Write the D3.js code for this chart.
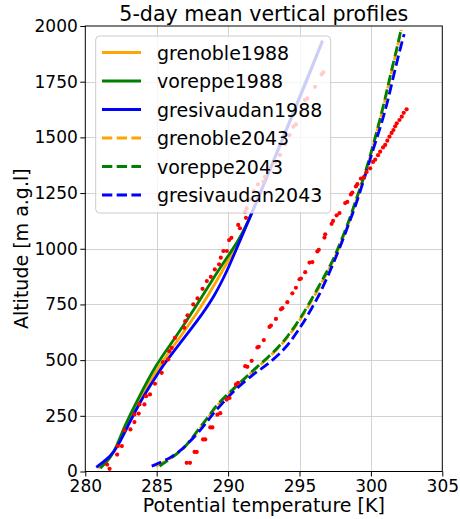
<!DOCTYPE html>
<html>
<head>
<meta charset="utf-8">
<script src="https://cdn.jsdelivr.net/npm/d3@7"></script>
<style>
  html, body { margin: 0; padding: 0; background: #fff; }
  svg { display: block; font-family: "DejaVu Sans", sans-serif; }
</style>
</head>
<body>
<svg id="chart" width="460" height="519"></svg>
<script>
// Profiles: [altitude (m a.g.l), potential temperature (K)]
const grenoble1988 = [[15,280.9],[60,281.7],[106,282.18],[204,282.86],[323,283.79],[481,285.23],[593,286.53],[728,288.02],[877,289.4],[975,290.25],[1042,290.82],[1154,291.65],[1400,293.21],[1600,294.5],[1800,295.77],[1934,296.6]];
const voreppe1988 = [[15,281.05],[60,281.75],[106,282.16],[204,282.74],[323,283.67],[481,284.95],[593,286.23],[728,287.63],[877,289.05],[975,290.08],[1042,290.78],[1154,291.65],[1400,293.2],[1600,294.48],[1800,295.75],[1934,296.6]];
const gresivaudan1988 = [[19,280.77],[69,281.81],[114,282.28],[204,282.98],[323,283.91],[451,285.19],[488,285.58],[563,286.47],[680,287.9],[787,289.05],[907,289.98],[1020,290.72],[1150,291.6],[1400,293.22],[1600,294.52],[1800,295.8],[1934,296.62]];

const grenoble2043 = [[24,284.95],[55,285.92],[98,286.82],[135,287.33],[188,287.95],[240,288.6],[299,289.25],[355,290.13],[396,290.86],[455,291.8],[500,292.66],[560,293.6],[600,294.15],[690,295.16],[787,296.04],[877,296.8],[951,297.43],[1050,298.05],[1131,298.54],[1220,298.98],[1295,299.4],[1400,299.9],[1535,300.47],[1655,300.95],[1790,301.42],[1910,301.88],[1982,302.12]];
const voreppe2043 = [[24,285.2],[55,285.9],[98,286.8],[135,287.3],[188,287.91],[240,288.55],[299,289.19],[355,290.08],[396,290.81],[455,291.74],[500,292.6],[560,293.55],[600,294.1],[690,295.1],[787,295.97],[877,296.74],[951,297.38],[1050,298.0],[1131,298.5],[1220,298.95],[1295,299.38],[1400,299.88],[1535,300.45],[1655,300.93],[1790,301.4],[1910,301.86],[1980,302.1]];
const gresivaudan2043 = [[24,284.65],[46,285.47],[68,286.1],[91,286.6],[120,287.1],[173,287.91],[226,288.55],[269,289.07],[338,290.05],[374,290.6],[433,291.7],[458,292.25],[485,292.85],[548,293.95],[600,294.55],[653,295.12],[698,295.55],[772,296.2],[802,296.45],[892,297.09],[981,297.67],[1042,298.05],[1086,298.3],[1177,298.84],[1296,299.45],[1446,300.15],[1535,300.62],[1655,301.16],[1790,301.63],[1910,302.1],[1963,302.33]];

// Observed soundings (dotted red), [altitude, potential temperature]
const obs1988 = [[12,281.7],[31,281.53],[76,282.23],[114,282.28],[114,282.56],[184,282.74],[189,283.16],[222,283.44],[256,283.44],[260,283.74],[301,283.79],[301,284.14],[338,284.26],[346,284.53],[394,284.88],[443,285.35],[491,285.44],[503,285.81],[540,285.88],[555,286.05],[600,286.28],[645,286.93],[675,287.0],[701,287.16],[750,287.56],[777,287.86],[820,288.21],[855,288.51],[874,288.79],[907,289.07],[930,289.37],[960,289.49],[990,289.67],[990,289.91],[1039,290.07],[1049,290.23],[1092,290.83],[1107,290.71],[1139,291.25],[1166,291.18],[1181,291.3],[1222,291.5],[1259,291.8],[1289,292.09],[1301,292.47],[1323,292.58],[1353,292.93],[1390,293.3],[1421,293.63],[1470,294.0],[1510,294.3],[1548,294.57],[1558,294.75],[1615,295.1],[1668,295.39],[1675,295.55],[1727,296.09],[1783,296.55],[1792,296.67]];
const obs2043 = [[39,287.1],[39,287.33],[88,287.65],[88,287.8],[144,288.25],[144,288.4],[198,288.75],[198,288.9],[255,289.25],[262,289.45],[323,289.9],[330,290.1],[391,290.55],[398,290.7],[473,291.2],[470,291.35],[497,291.65],[557,292.05],[560,292.15],[590,292.5],[649,292.9],[655,293.0],[685,293.35],[728,293.7],[733,293.8],[760,294.15],[800,294.5],[825,294.75],[863,295.0],[866,295.1],[895,295.4],[938,295.7],[940,295.9],[988,296.25],[995,296.35],[1050,296.75],[1065,296.8],[1112,297.25],[1125,297.35],[1150,297.6],[1160,297.8],[1205,298.2],[1210,298.35],[1244,298.6],[1252,298.7],[1280,298.95],[1290,299.05],[1315,299.3],[1320,299.5],[1345,299.7],[1361,299.95],[1390,300.15],[1400,300.3],[1420,300.5],[1436,300.65],[1455,300.85],[1466,301.0],[1485,301.15],[1503,301.3],[1520,301.45],[1533,301.58],[1550,301.7],[1563,301.81],[1578,302.0],[1593,302.16],[1610,302.3],[1626,302.5]];

const tempTicks = [280, 285, 290, 295, 300, 305];
const altTicks = [0, 250, 500, 750, 1000, 1250, 1500, 1750, 2000];

const series = [
  { name: "grenoble1988", data: grenoble1988, color: "orange", dashed: false },
  { name: "voreppe1988", data: voreppe1988, color: "green", dashed: false },
  { name: "gresivaudan1988", data: gresivaudan1988, color: "blue", dashed: false },
  { name: "grenoble2043", data: grenoble2043, color: "orange", dashed: true },
  { name: "voreppe2043", data: voreppe2043, color: "green", dashed: true },
  { name: "gresivaudan2043", data: gresivaudan2043, color: "blue", dashed: true }
];

const svg = d3.select("#chart");
const plotLeft = 85.3, plotRight = 442.3, plotTop = 26, plotBottom = 471.5;
const x = d3.scaleLinear().domain([280, 305]).range([plotLeft, plotRight]);
const y = d3.scaleLinear().domain([0, 2000]).range([plotBottom, plotTop]);

const DASH = "10.3,4.4";
const LW = 2.8;

// grid
const grid = svg.append("g").attr("stroke", "#d2d2d2").attr("stroke-width", 1);
tempTicks.slice(1, -1).forEach(t => {
  const px = Math.round(x(t)) + 0.5;
  grid.append("line").attr("x1", px).attr("x2", px).attr("y1", plotTop).attr("y2", plotBottom);
});
altTicks.slice(1, -1).forEach(a => {
  const py = Math.round(y(a)) + 0.5;
  grid.append("line").attr("x1", plotLeft).attr("x2", plotRight).attr("y1", py).attr("y2", py);
});

// clip to the axes area
svg.append("clipPath").attr("id", "plotArea")
  .append("rect").attr("x", plotLeft).attr("y", plotTop)
  .attr("width", plotRight - plotLeft).attr("height", plotBottom - plotTop);

const plot = svg.append("g").attr("clip-path", "url(#plotArea)");
const line = d3.line().x(d => x(d[1])).y(d => y(d[0])).curve(d3.curveBasis);

series.forEach(s => {
  plot.append("path")
    .datum(s.data)
    .attr("d", line)
    .attr("fill", "none")
    .attr("stroke", s.color)
    .attr("stroke-width", LW)
    .attr("stroke-dasharray", s.dashed ? DASH : null);
});

[obs1988, obs2043].forEach(obs => {
  plot.append("g").selectAll("circle")
    .data(obs)
    .join("circle")
    .attr("cx", d => x(d[1]))
    .attr("cy", d => y(d[0]))
    .attr("r", 2.1)
    .attr("fill", "red");
});

// axes
const xAxis = svg.append("g")
  .attr("transform", `translate(0,${plotBottom})`)
  .call(d3.axisBottom(x).tickValues(tempTicks).tickFormat(d3.format("d")).tickSize(5).tickPadding(3));
const yAxis = svg.append("g")
  .attr("transform", `translate(${plotLeft},0)`)
  .call(d3.axisLeft(y).tickValues(altTicks).tickFormat(d3.format("d")).tickSize(5).tickPadding(2.5));
[xAxis, yAxis].forEach(ax => {
  ax.select(".domain").remove();
  ax.selectAll(".tick line").attr("stroke", "#000").attr("stroke-width", 1);
  ax.selectAll(".tick text")
    .attr("fill", "#000")
    .style("font-size", "17px")
    .style("font-family", "'DejaVu Sans', sans-serif");
});

// frame
svg.append("rect")
  .attr("x", plotLeft).attr("y", plotTop)
  .attr("width", plotRight - plotLeft).attr("height", plotBottom - plotTop)
  .attr("fill", "none").attr("stroke", "#000").attr("stroke-width", 1);

// titles
svg.append("text")
  .attr("x", (plotLeft + plotRight) / 2).attr("y", 21)
  .attr("text-anchor", "middle")
  .style("font-size", "20.6px")
  .text("5-day mean vertical profiles");
svg.append("text")
  .attr("x", (plotLeft + plotRight) / 2).attr("y", 512)
  .attr("text-anchor", "middle")
  .style("font-size", "19px")
  .text("Potential temperature [K]");
svg.append("text")
  .attr("transform", `translate(27.5,${(plotTop + plotBottom) / 2}) rotate(-90)`)
  .attr("text-anchor", "middle")
  .style("font-size", "19px")
  .text("Altitude [m a.g.l]");

// legend
const legend = svg.append("g");
legend.append("rect")
  .attr("x", 95.7).attr("y", 36)
  .attr("width", 235).attr("height", 177)
  .attr("rx", 4)
  .attr("fill", "#fff").attr("fill-opacity", 0.8)
  .attr("stroke", "#cccccc").attr("stroke-width", 1);
series.forEach((s, i) => {
  const cy = 52.5 + i * 28.5;
  legend.append("line")
    .attr("x1", 102).attr("x2", 141)
    .attr("y1", cy).attr("y2", cy)
    .attr("stroke", s.color).attr("stroke-width", LW)
    .attr("stroke-dasharray", s.dashed ? DASH : null);
  legend.append("text")
    .attr("x", 157).attr("y", cy)
    .attr("dominant-baseline", "central")
    .style("font-size", "19px")
    .text(s.name);
});
</script>
</body>
</html>
